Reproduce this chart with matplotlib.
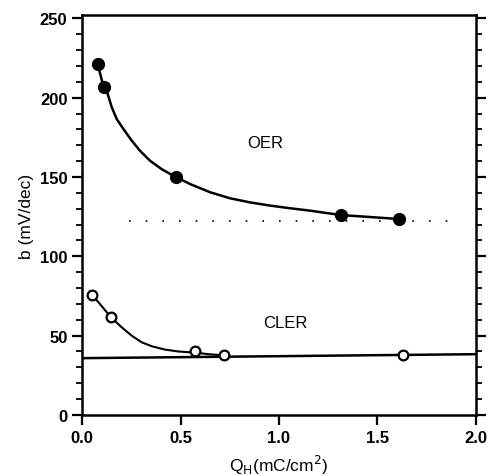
import matplotlib
matplotlib.use("Agg")
import matplotlib.pyplot as plt
from matplotlib.ticker import MultipleLocator, FormatStrFormatter

plt.rcParams['font.family'] = ['Liberation Sans', 'DejaVu Sans']

# OER data (filled circles) and the drawn curve through them
oer_q = [0.08, 0.11, 0.475, 1.315, 1.61]
oer_b = [221, 206.5, 150, 126, 123.5]
oer_curve_q = [0.08, 0.11, 0.125, 0.151, 0.176, 0.21, 0.252, 0.294, 0.345,
               0.404, 0.475, 0.531, 0.548, 0.65, 0.751, 0.853, 0.954, 1.056,
               1.157, 1.315, 1.46, 1.61]
oer_curve_b = [221, 206.5, 204.5, 194, 186.6, 180.3, 173, 166.6, 160.3,
               155, 150, 146.7, 145.6, 140.4, 136.6, 134, 132, 130.3,
               128.8, 126, 124.8, 123.5]

# dotted reference level for OER
oer_ref_q = [0.24, 1.93]
oer_ref_b = [122.3, 122.3]

# CLER data (open circles) and curve
cler_q = [0.052, 0.147, 0.574, 0.722, 1.63]
cler_b = [75.7, 61.6, 40, 37.6, 37.8]
cler_curve_q = [0.052, 0.147, 0.201, 0.252, 0.303, 0.354, 0.421, 0.489,
                0.574, 0.65, 0.722]
cler_curve_b = [75.7, 61.6, 55.3, 50, 45.8, 43.3, 41.2, 40, 39.3, 38.2, 37.6]

# solid reference level for CLER
cler_ref_q = [0.0, 2.0]
cler_ref_b = [35.8, 38.3]

fig = plt.figure(figsize=(4.89, 4.77), dpi=100)
ax = fig.add_axes([0.1677, 0.128, 0.8057, 0.838])

ax.plot(oer_ref_q, oer_ref_b, color='k', lw=1.2, linestyle=(0, (1, 9)))
ax.plot(cler_ref_q, cler_ref_b, color='k', lw=1.8)

ax.plot(oer_curve_q, oer_curve_b, color='k', lw=1.8)
ax.plot(oer_q, oer_b, 'o', color='k', ms=8.5)

ax.plot(cler_curve_q, cler_curve_b, color='k', lw=1.5)
ax.plot(cler_q, cler_b, 'o', mfc='white', mec='k', mew=1.6, ms=7)

ax.text(0.93, 172, 'OER', fontsize=12, ha='center', va='center')
ax.text(1.03, 58.5, 'CLER', fontsize=12, ha='center', va='center')

ax.set_xlim(0, 2.0)
ax.set_ylim(0, 252)
ax.xaxis.set_major_locator(MultipleLocator(0.5))
ax.yaxis.set_major_locator(MultipleLocator(50))
ax.yaxis.set_minor_locator(MultipleLocator(10))
ax.xaxis.set_major_formatter(FormatStrFormatter('%.1f'))

ax.tick_params(axis='both', which='major', direction='out', length=7, width=1.6,
               labelsize=12)
ax.tick_params(axis='y', which='minor', direction='out', length=4, width=1.3,
               right=True)
ax.tick_params(axis='y', which='major', right=True)
for lbl in ax.get_xticklabels() + ax.get_yticklabels():
    lbl.set_fontweight('bold')
for s in ax.spines.values():
    s.set_linewidth(1.8)

ax.set_ylabel('b (mV/dec)', fontsize=12.5, labelpad=4)
ax.set_xlabel(r'Q$_{\rm H}$(mC/cm$^2$)', fontsize=12.5, labelpad=6)

fig.savefig('out.png', dpi=100)
